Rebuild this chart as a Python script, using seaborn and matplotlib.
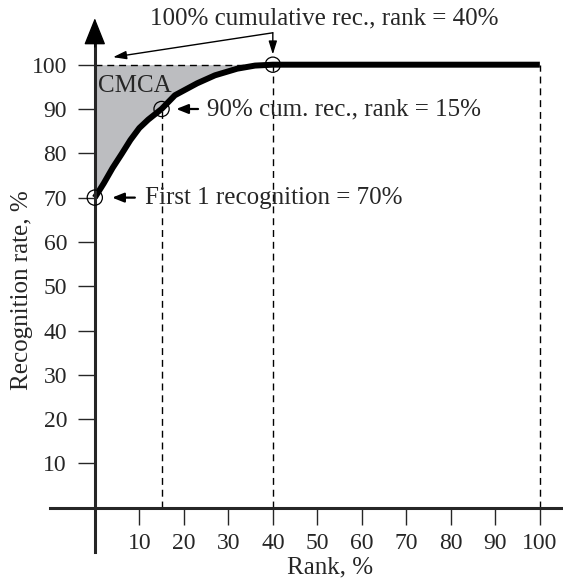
import numpy as np
import pandas as pd
import seaborn as sns
import matplotlib.pyplot as plt

# data
rank = [0, 2, 4, 6, 8, 10, 12, 15, 18, 23, 27, 32, 36, 40, 100]
rate = [70, 73.2, 76.7, 79.8, 83, 85.7, 87.6, 90, 93.1, 95.8, 97.6, 99.1, 99.8, 100, 100]
key_rank = [0, 15, 40]
key_rate = [70, 90, 100]
ticks = [10, 20, 30, 40, 50, 60, 70, 80, 90, 100]

df = pd.DataFrame({'rank': rank, 'rate': rate})
keys = pd.DataFrame({'rank': key_rank, 'rate': key_rate})

sns.set_style('white')
plt.rcParams['font.family'] = ['Liberation Serif', 'DejaVu Serif']
plt.rcParams['font.size'] = 18

fig = plt.figure(figsize=(5.63, 5.8), dpi=100)
ax = fig.add_axes([0, 0, 1, 1])
ax.set_xlim(-21.3, 105.2)
ax.set_ylim(-16.3, 114.6)

# shaded CMCA area
part = df[df['rank'] <= 40]
ax.fill_between(part['rank'], part['rate'], 100, color='#bcbdc0', lw=0)

# dashed guides
dash = dict(color='black', lw=1, ls=(0, (5, 3.5)))
ax.plot([0, 40], [100, 100], **dash)
for r, v in [(15, 90), (40, 100), (100, 100)]:
    ax.plot([r, r], [0, v], **dash)

sns.lineplot(data=df, x='rank', y='rate', ax=ax, color='black', lw=4.3,
             solid_capstyle='butt', solid_joinstyle='round')
sns.scatterplot(data=keys, x='rank', y='rate', ax=ax, s=120, marker='o',
                facecolor='none', edgecolor='black', linewidth=0.9, zorder=5)

# axes through the origin
for s in ['top', 'right']:
    ax.spines[s].set_visible(False)
ax.spines['left'].set_position(('data', 0))
ax.spines['bottom'].set_position(('data', 0))
ax.spines['left'].set_bounds(-10, 106)
ax.spines['bottom'].set_bounds(-10, 105.2)
ax.spines['left'].set_linewidth(2.2)
ax.spines['bottom'].set_linewidth(2.2)
ax.annotate('', xy=(0, 110.5), xytext=(0, 104),
            arrowprops=dict(arrowstyle='-|>,head_length=1.7,head_width=0.68',
                            color='black', lw=1, mutation_scale=10,
                            shrinkA=0, shrinkB=0))

ax.set_xticks(ticks)
ax.set_yticks(ticks)
ax.set_xticklabels(ticks)
ax.set_yticklabels(ticks)
ax.tick_params(axis='x', direction='out', length=12, width=1, pad=6,
               bottom=True, labelsize=17)
ax.tick_params(axis='y', direction='out', length=12, width=1, pad=8,
               left=True, labelsize=17)

ax.set_xlabel('Rank, %', va='center')
ax.set_ylabel('Recognition rate, %', va='center')
ax.xaxis.set_label_coords(0.586, 0.021)
ax.yaxis.set_label_coords(0.039, 0.5)

# annotations
thin = dict(arrowstyle='-|>,head_length=0.8,head_width=0.25', color='black',
            lw=1, mutation_scale=10, shrinkA=0, shrinkB=0)
ax.text(51.6, 110.5, '100% cumulative rec., rank = 40%', ha='center', va='center')
ax.annotate('', xy=(40, 102.3), xytext=(40, 107.2), arrowprops=thin)
ax.annotate('', xy=(4.1, 101.7), xytext=(40, 107.2), arrowprops=thin)

ax.text(0.7, 95.2, 'CMCA', ha='left', va='center')

mid = dict(arrowstyle='-|>,head_length=0.7,head_width=0.28', color='black',
           lw=1.6, mutation_scale=10, shrinkA=0, shrinkB=0)
ax.annotate('', xy=(18.3, 90), xytext=(23.2, 90), arrowprops=mid)
ax.text(25.2, 90, '90% cum. rec., rank = 15%', ha='left', va='center')
ax.annotate('', xy=(3.9, 70), xytext=(9.0, 70), arrowprops=mid)
ax.text(11.3, 70, 'First 1 recognition = 70%', ha='left', va='center')

fig.savefig('out.png', dpi=100)
